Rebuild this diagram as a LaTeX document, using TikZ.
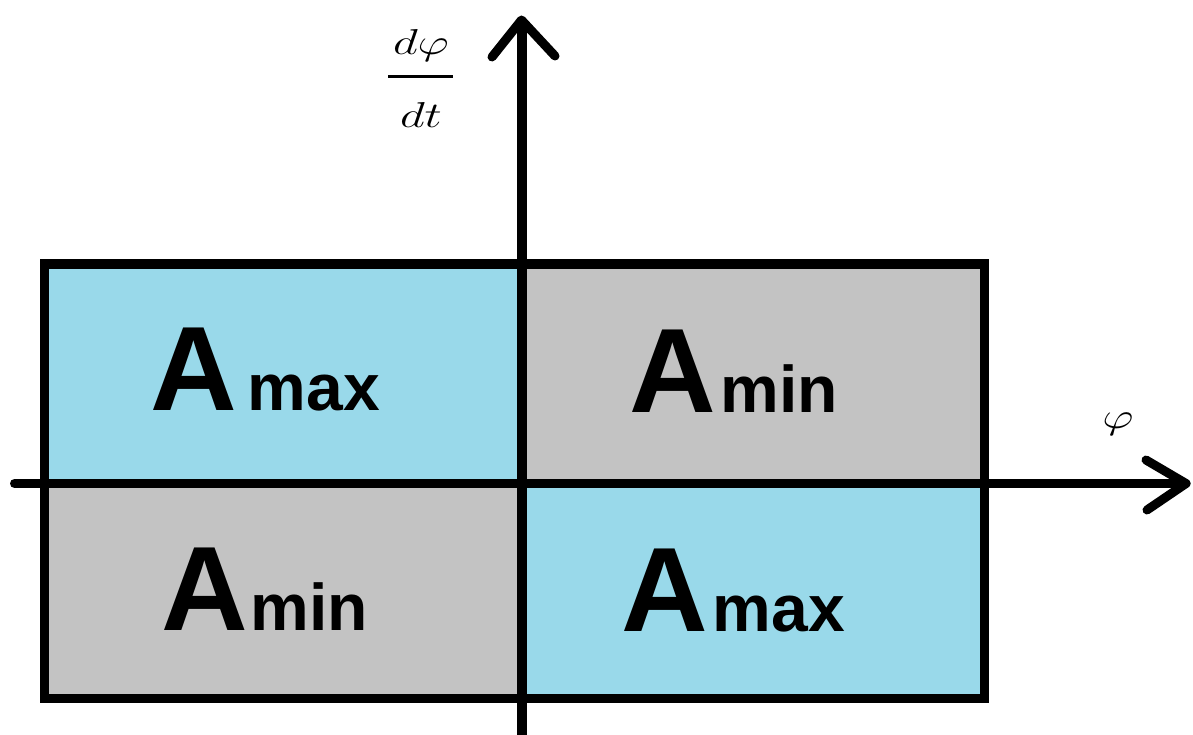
\RequirePackage{fix-cm}
\documentclass[tikz,border=0pt]{standalone}
\usepackage{fontspec}
\usepackage{graphicx}
\newfontfamily\labfont{Liberation Sans}
\definecolor{paleblue}{RGB}{153,217,234}
\definecolor{palegray}{RGB}{195,195,195}
\tikzset{
  thick line/.style={line width=9pt, draw=black},
  chevron/.style={line width=9pt, draw=black, line cap=round, line join=round},
  biglabel/.style={anchor=base west, inner sep=0pt, font=\labfont\bfseries},
  mathlabel/.style={anchor=base, inner sep=0pt}
}
\newcommand{\quadlabel}[2]{\fontsize{120}{120}\selectfont A\kern #1\fontsize{66}{66}\selectfont #2}
\newcommand{\bigmath}[1]{\fontsize{36}{36}\selectfont\scalebox{1.35}[1]{$#1$}}
\begin{document}
\begin{tikzpicture}[x=1pt,y=-1pt]
  \useasboundingbox (0,0) rectangle (1193,735);
  % corners of the box and the axes crossing
  \coordinate (tl) at (44.5,264);
  \coordinate (br) at (984,698);
  \coordinate (o) at (521.5,483.5);
  % quadrant fills
  \fill[paleblue] (tl) rectangle (o);
  \fill[palegray] (o |- tl) rectangle (br |- o);
  \fill[palegray] (tl |- o) rectangle (o |- br);
  \fill[paleblue] (o) rectangle (br);
  % box outline
  \draw[thick line] (tl) rectangle (br);
  % axes
  \coordinate (xstart) at (14.5,483.5);
  \coordinate (xtip) at (1186,483.5);
  \coordinate (xarmA) at (1146,460);
  \coordinate (xarmB) at (1147,510);
  \coordinate (ystart) at (521.5,735);
  \coordinate (ytip) at (521.5,20);
  \coordinate (yarmA) at (492,57);
  \coordinate (yarmB) at (555,56);
  \draw[thick line, line cap=round] (xstart) -- (xtip);
  \draw[chevron] (xarmA) -- (xtip) -- (xarmB);
  \draw[thick line, line width=10pt] (ystart) -- (ytip);
  \draw[chevron] (yarmA) -- (ytip) -- (yarmB);
  % axis labels
  \node[mathlabel] (num) at (421,55) {\bigmath{d\varphi}};
  \node[mathlabel] (den) at (421,128) {\bigmath{dt}};
  \coordinate (barL) at (388,77);
  \coordinate (barR) at (453,77);
  \draw[line width=3pt] (barL) -- (barR);
  \node[mathlabel] (phi) at (1118,428) {\bigmath{\varphi}};
  % quadrant labels
  \node[biglabel] (q2) at (150,410) {\quadlabel{11pt}{max}};
  \node[biglabel] (q1) at (629,412) {\quadlabel{5pt}{min}};
  \node[biglabel] (q3) at (161,630) {\quadlabel{3pt}{min}};
  \node[biglabel] (q4) at (621,631) {\quadlabel{5pt}{max}};
\end{tikzpicture}
\end{document}
